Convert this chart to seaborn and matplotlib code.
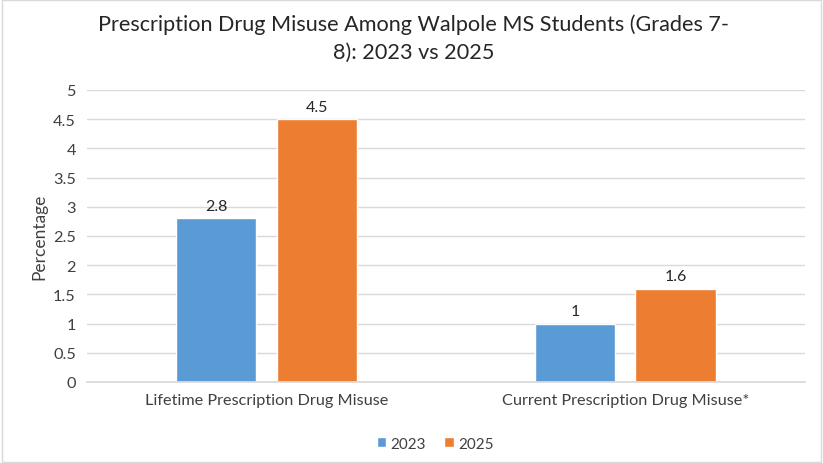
import matplotlib
matplotlib.use('Agg')
import matplotlib.pyplot as plt
import seaborn as sns
import pandas as pd

# data
categories = ['Lifetime Prescription Drug Misuse', 'Current Prescription Drug Misuse*']
years = ['2023', '2025']
vals_2023 = [2.8, 1.0]
vals_2025 = [4.5, 1.6]
value_labels = {'2023': ['2.8', '1'], '2025': ['4.5', '1.6']}
yticks = [0, 0.5, 1, 1.5, 2, 2.5, 3, 3.5, 4, 4.5, 5]
yticklabels = ['0', '0.5', '1', '1.5', '2', '2.5', '3', '3.5', '4', '4.5', '5']

df = pd.DataFrame({
    'category': categories * 2,
    'year': [years[0]] * 2 + [years[1]] * 2,
    'value': vals_2023 + vals_2025,
})

sns.set_theme(style='white')
plt.rcParams['font.family'] = ['Lato', 'DejaVu Sans']

fig = plt.figure(figsize=(8.23, 4.64), dpi=100)
ax = fig.add_axes([0.1057, 0.1746, 0.8723, 0.6293])

sns.barplot(data=df, x='category', y='value', hue='year', order=categories,
            hue_order=years, palette=['#5B9BD5', '#ED7D31'],
            width=0.56, gap=0.2, saturation=1, ax=ax, legend=True)

for cont, yr in zip(ax.containers, years):
    ax.bar_label(cont, labels=value_labels[yr], padding=4, fontsize=11.5, color='#262626')

ax.set_ylim(0, 5)
ax.set_yticks(yticks)
ax.set_yticklabels(yticklabels)
ax.yaxis.grid(True, color='#D9D9D9', linewidth=1)
ax.set_axisbelow(True)
for s in ['top', 'right', 'left']:
    ax.spines[s].set_visible(False)
ax.spines['bottom'].set_color('#D9D9D9')
ax.tick_params(axis='both', length=0, labelsize=11.7, colors='#404040', pad=8)
ax.set_xlabel('')
ax.set_ylabel('Percentage', fontsize=12.5, color='#404040')

fig.suptitle('Prescription Drug Misuse Among Walpole MS Students (Grades 7-\n8): 2023 vs 2025',
             fontsize=15.6, color='#262626', x=0.5025, y=0.968, linespacing=1.45)

leg = ax.legend(loc='upper center', bbox_to_anchor=(0.485, -0.14), ncol=2, frameon=False,
                fontsize=11, handlelength=0.6, handleheight=0.6, columnspacing=1.2,
                handletextpad=0.3)
for t in leg.get_texts():
    t.set_color('#404040')

fig.patches.append(plt.Rectangle((0.002, 0.002), 0.996, 0.996, transform=fig.transFigure,
                                 fill=False, edgecolor='#D9D9D9', linewidth=1))

fig.savefig('out.png', dpi=100)
